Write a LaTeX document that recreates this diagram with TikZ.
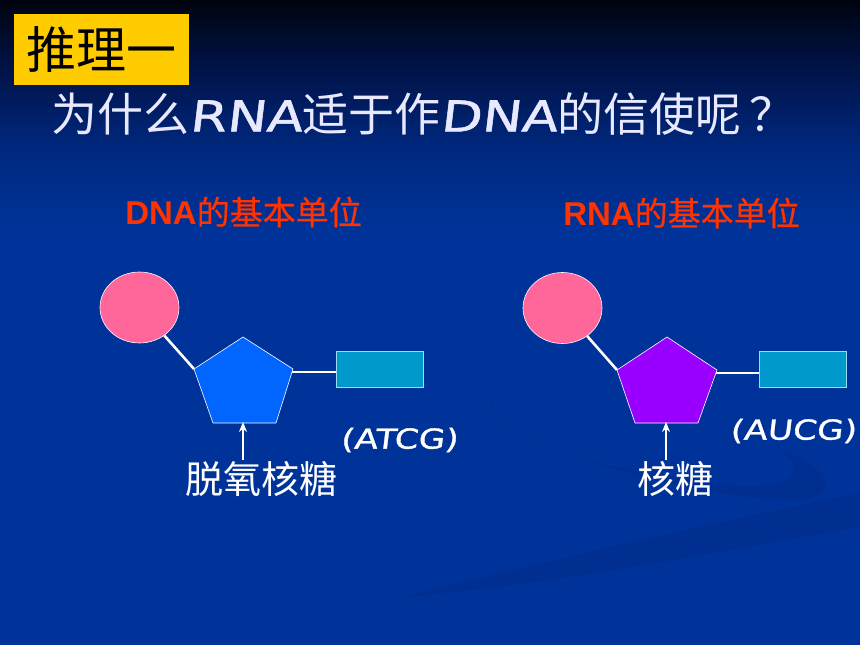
\documentclass[tikz,border=0pt]{standalone}
\usepackage{fontspec}
\setmainfont{Liberation Sans}
\newfontfamily\cjk{Noto Sans CJK SC}
\newfontfamily\cjkb[FakeBold=0.6]{Noto Sans CJK SC}
\newfontfamily\comic[FakeStretch=1.25,FakeSlant=0.12,FakeBold=1.2]{DejaVu Sans}
\usetikzlibrary{shapes.geometric,arrows.meta}
\definecolor{bgb}{HTML}{003399}
\definecolor{bgm}{HTML}{00287F}
\definecolor{bgd}{HTML}{001245}
\definecolor{bgt}{HTML}{00040F}
\definecolor{ybox}{HTML}{FFCC00}
\definecolor{pinkc}{HTML}{FF6699}
\definecolor{bluep}{HTML}{0066FF}
\definecolor{purp}{HTML}{9900FF}
\definecolor{basec}{HTML}{0099CC}
\definecolor{titlec}{HTML}{E8E8FF}
\definecolor{redc}{HTML}{FF3300}
\definecolor{swc}{HTML}{002070}
\pgfdeclareverticalshading{bgshade}{100bp}{color(0bp)=(bgb); color(57bp)=(bgb); color(63.4bp)=(bgm); color(70bp)=(bgd); color(75bp)=(bgt); color(100bp)=(bgt)}
\tikzset{
  txt/.style={inner sep=0pt},
  phos/.style={ellipse, minimum width=79pt, minimum height=71pt, fill=pinkc, draw=white, line width=0.6pt},
  sugar/.style={draw=white, line width=0.6pt},
  basebox/.style={rectangle, minimum width=87pt, minimum height=36pt, fill=basec, draw=white!60!cyan, line width=0.8pt, inner sep=0pt},
  bond/.style={draw=white, line width=2.6pt},
  hbond/.style={draw=white, line width=2pt},
  arr/.style={draw=white, line width=1.8pt, -{Stealth[length=10pt,width=8pt]}},
  swoosh/.style={fill=swc, fill opacity=0.18, draw=none}
}
\begin{document}
\begin{tikzpicture}[x=1pt,y=-1pt]
\useasboundingbox (0,0) rectangle (860,645);
\fill[shading=bgshade] (0,0) rectangle (860,645);
% faint swooshes
\path[swoosh] (403,597) .. controls (550,560) and (700,525) .. (860,493) -- (860,527) .. controls (700,555) and (550,585) .. (403,597) -- cycle;
\path[swoosh] (490,392) .. controls (470,440) and (700,500) .. (790,500) .. controls (845,500) and (835,468) .. (780,450) .. controls (812,474) and (785,490) .. (730,485) .. controls (620,475) and (485,440) .. (490,392) -- cycle;
% title box
\node[txt, fill=ybox, minimum width=175pt, minimum height=71pt] (tbox) at (101.5,49.5) {\cjk\fontsize{50}{50}\selectfont 推理一};
\node[txt, anchor=west, text=titlec] (title) at (51,114) {\cjk\fontsize{46}{46}\selectfont 为什么{\comic\fontsize{42.5}{42.5}\selectfont RNA}适于作{\comic\fontsize{42.5}{42.5}\selectfont DNA}的信使呢\hspace{8pt}？};
% headings
\node[txt, text=redc] (dnah) at (243.5,212) {\fontsize{33}{33}\selectfont\bfseries DNA{\cjkb\mdseries 的基本单位}};
\node[txt, text=redc] (rnah) at (681.5,213) {\fontsize{33}{33}\selectfont\bfseries RNA{\cjkb\mdseries 的基本单位}};
% ---- DNA unit
\node[phos] (p1) at (139.5,307.5) {};
\coordinate (s1t) at (243,337);
\coordinate (s1l) at (194,369);
\coordinate (s1r) at (293,369);
\coordinate (s1br) at (276,423);
\coordinate (s1bl) at (213,423);
\coordinate (s1b) at (243,423);
\coordinate (s1h) at (292,372);
\filldraw[sugar, fill=bluep] (s1t) -- (s1r) -- (s1br) -- (s1bl) -- (s1l) -- cycle;
\node[basebox] (b1) at (379.5,369) {};
\draw[bond] (p1) -- (s1l);
\draw[hbond] (s1h) -- (s1h -| b1.west);
\node[txt, text=white] (lab1) at (261,479) {\cjk\fontsize{38}{38}\selectfont 脱氧核糖};
\draw[arr] (lab1.north -| s1b) ++(0,-1) -- ([yshift=1pt]s1b);
\node[txt, text=white] (atcg) at (399,440) {\comic\fontsize{27.5}{27.5}\selectfont (ATCG)};
% ---- RNA unit
\node[phos] (p2) at (562.5,308) {};
\coordinate (s2t) at (667,337);
\coordinate (s2l) at (617,370);
\coordinate (s2r) at (717,370);
\coordinate (s2br) at (698,423);
\coordinate (s2bl) at (635,423);
\coordinate (s2b) at (666,423);
\coordinate (s2h) at (716,373);
\filldraw[sugar, fill=purp] (s2t) -- (s2r) -- (s2br) -- (s2bl) -- (s2l) -- cycle;
\node[basebox] (b2) at (802.5,369.5) {};
\draw[bond] (p2) -- (s2l);
\draw[hbond] (s2h) -- (s2h -| b2.west);
\node[txt, text=white] (lab2) at (675,479) {\cjk\fontsize{38}{38}\selectfont 核糖};
\draw[arr] (lab2.north -| s2b) ++(0,-1) -- ([yshift=1pt]s2b);
\node[txt, text=white] (aucg) at (793,431) {\comic\fontsize{27.5}{27.5}\selectfont (AUCG)};
\end{tikzpicture}
\end{document}
